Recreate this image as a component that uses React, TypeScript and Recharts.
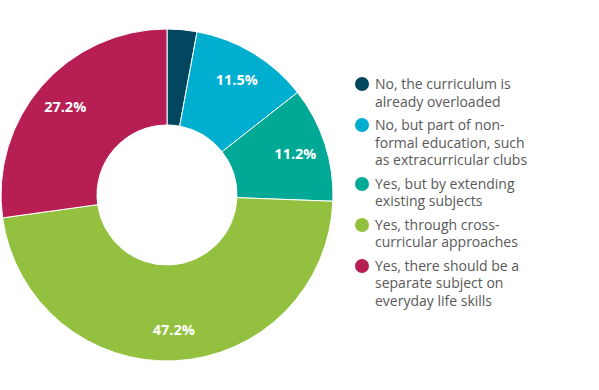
import React from 'react'
import { PieChart, Pie, Cell, Legend } from 'recharts'

const categories = [
  'No, the curriculum is\nalready overloaded',
  'No, but part of non-\nformal education, such\nas extracurricular clubs',
  'Yes, but by extending\nexisting subjects',
  'Yes, through cross-\ncurricular approaches',
  'Yes, there should be a\nseparate subject on\neveryday life skills',
]
const shares = [2.9, 11.5, 11.2, 47.2, 27.2]
const colors = ['#03465f', '#00aecf', '#00a996', '#93c13f', '#b71e53']

const data = categories.map((name, i) => ({ name, value: shares[i] }))

const RADIAN = Math.PI / 180

const renderLabel = ({ cx, cy, midAngle, value }: any) => {
  if (value < 5) return null
  const r = 135
  const x = cx + r * Math.cos(-midAngle * RADIAN)
  const y = cy + r * Math.sin(-midAngle * RADIAN)
  return (
    <text x={x} y={y} fill="#fff" textAnchor="middle" dominantBaseline="central"
      fontSize={14.5} fontWeight={700} fontFamily="'Open Sans', sans-serif">
      {`${value.toFixed(1)}%`}
    </text>
  )
}

const renderLegend = () => (
  <div style={{ fontFamily: "'Open Sans', sans-serif", fontSize: 14, color: '#595959' }}>
    {categories.map((name, i) => (
      <div key={i} style={{ display: 'flex', alignItems: 'flex-start', marginBottom: 6 }}>
        <span style={{
          width: 14, height: 14, borderRadius: 7, background: colors[i],
          flex: 'none', marginTop: 2, marginRight: 6,
        }} />
        <span style={{ whiteSpace: 'pre-line', lineHeight: '17.5px' }}>{name}</span>
      </div>
    ))}
  </div>
)

const App: React.FC = () => {
  return (
    <div style={{ position: 'absolute', left: 0, top: 0, width: 599, height: 390, background: '#fff' }}>
      <PieChart width={599} height={390} margin={{ top: 0, right: 0, bottom: 0, left: 0 }}>
        <Pie
          data={data}
          dataKey="value"
          nameKey="name"
          cx={167}
          cy={195}
          innerRadius={70}
          outerRadius={166}
          startAngle={90}
          endAngle={-270}
          stroke="#fff"
          strokeWidth={1}
          label={renderLabel}
          labelLine={false}
          isAnimationActive={false}
        >
          {data.map((d, i) => (
            <Cell key={d.name} fill={colors[i]} />
          ))}
        </Pie>
        <Legend
          layout="vertical"
          align="right"
          verticalAlign="top"
          wrapperStyle={{ left: 355, top: 75, width: 230 }}
          content={renderLegend}
        />
      </PieChart>
    </div>
  )
}

export default App
